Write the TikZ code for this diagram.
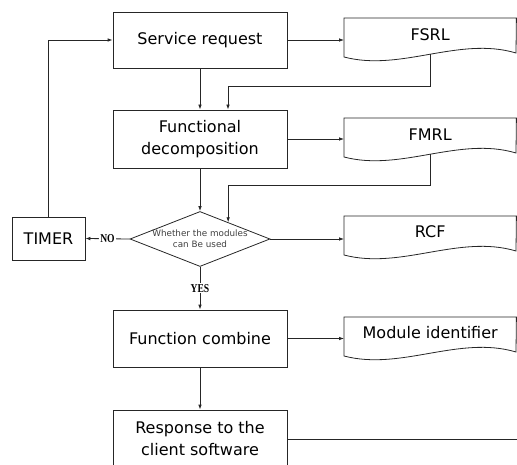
\documentclass[tikz,border=0pt]{standalone}
\usepackage{fontspec}
\setmainfont{DejaVu Sans}
\newfontfamily\yesnofont{Liberation Serif}
\usetikzlibrary{arrows.meta,shapes.geometric,calc}
\tikzset{
  ln/.style={draw=black!85, line width=0.8pt},
  arr/.style={ln, -{Latex[length=5pt,width=3.6pt]}},
  procbox/.style={ln, rectangle, minimum width=174pt, inner sep=2pt, align=center, font=\fontsize{16}{22}\selectfont},
  docbox/.style={rectangle, minimum width=172pt, minimum height=44pt, inner sep=0pt},
  doctext/.style={inner sep=0pt, font=\fontsize{16}{20}\selectfont},
  decision/.style={ln, diamond, minimum width=140pt, minimum height=55pt, inner sep=0pt},
  dectext/.style={inner sep=0pt, align=center, text=black!75, font=\fontsize{8.8}{11}\selectfont},
  yesno/.style={fill=white, inner sep=1pt, font=\yesnofont\bfseries\fontsize{12}{12}\selectfont}
}
\newcommand{\docoutline}[1]{%
  \draw[ln] (#1.north west) -- (#1.north east) -- ($(#1.north west)+(172,35)$)
    .. controls ($(#1.north west)+(115,18)$) and ($(#1.north west)+(57,54)$) .. ($(#1.north west)+(0,39)$) -- cycle;}
\begin{document}
\begin{tikzpicture}[x=1pt,y=-1pt]
\useasboundingbox (0,0) rectangle (517,465);
% process boxes
\node[procbox, minimum height=56pt] (sr) at (200,40) {Service request};
\node[procbox, minimum height=58pt] (fd) at (200,139) {Functional\\decomposition};
\node[decision] (dia) at (200,239) {};
\node[dectext] (diat) at (200,238.5) {Whether the modules\\can Be used};
\node[ln, rectangle, minimum width=73pt, minimum height=43pt, inner sep=0pt, font=\fontsize{16}{20}\selectfont] (timer) at (48.5,238.5) {TIMER};
\node[procbox, minimum height=57pt] (fc) at (200,338.5) {Function combine};
\node[procbox, minimum height=58pt] (resp) at (200,439) {Response to the\\client software};
% documents
\node[docbox, anchor=north west] (fsrl) at (344,18) {};
\node[doctext] (fsrlt) at ($(fsrl.north)+(0,17)$) {FSRL};
\node[docbox, anchor=north west] (fmrl) at (344,118) {};
\node[doctext] (fmrlt) at ($(fmrl.north)+(0,17)$) {FMRL};
\node[docbox, anchor=north west] (rcf) at (344,216) {};
\node[doctext] (rcft) at ($(rcf.north)+(0,16)$) {RCF};
\node[docbox, anchor=north west] (mi) at (344,317) {};
\node[doctext] (mit) at ($(mi.north)+(0,16)$) {Module identifier};
\docoutline{fsrl}
\docoutline{fmrl}
\docoutline{rcf}
\docoutline{mi}
% helper coordinates
\coordinate (fsrlb) at ($(fsrl.north west)+(86,36)$);
\coordinate (fmrlb) at ($(fmrl.north west)+(86,36)$);
\coordinate (diatarget) at ($(dia.north)!0.4!(dia.east)$);
\coordinate (respend) at (517,439);
% connectors
\draw[arr] (sr.east) -- (sr.east -| fsrl.west);
\draw[arr] (sr.south) -- (fd.north);
\draw[arr] (fsrlb) -- ++(0,32) -| ($(fd.north)+(28,0)$);
\draw[arr] (fd.east) -- (fd.east -| fmrl.west);
\draw[arr] (fd.south) -- (dia.north);
\draw[arr] (fmrlb) -- ++(0,31) -| (diatarget);
\draw[arr] (dia.west) -- node[yesno] (no) {\scalebox{0.8}[1]{NO}} (timer.east);
\draw[arr] (timer.north) |- (sr.west);
\draw[arr] (dia.east) -- (dia.east -| rcf.west);
\draw[arr] (dia.south) -- node[yesno] (yes) {\scalebox{0.8}[1]{YES}} (fc.north);
\draw[arr] (fc.east) -- (fc.east -| mi.west);
\draw[arr] (fc.south) -- (resp.north);
\draw[ln] (resp.east) -- (respend);
\end{tikzpicture}
\end{document}
